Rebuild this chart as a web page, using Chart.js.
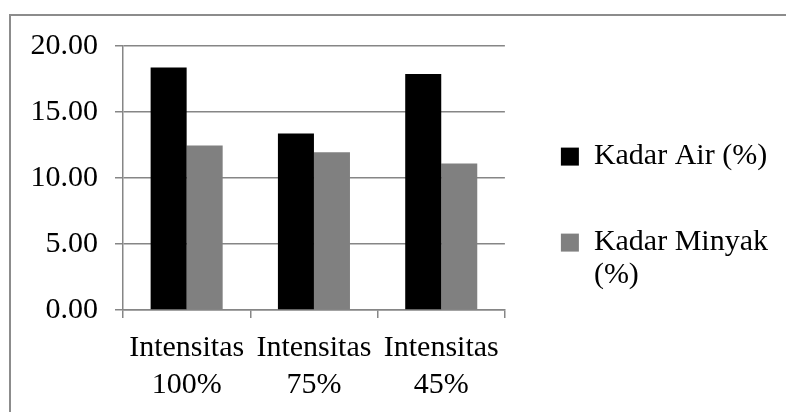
<!DOCTYPE html>
<html>
<head>
<meta charset="utf-8">
<script src="https://cdn.jsdelivr.net/npm/chart.js@4"></script>
<style>
  body { margin: 0; background: #fff; }
  .wrap { position: relative; width: 786px; height: 412px; overflow: hidden; }
  .frame { position: absolute; left: 9px; top: 14px; width: 800px; height: 420px;
           border-left: 2px solid #8c8c8c; border-top: 2px solid #8c8c8c; }
  canvas { position: absolute; left: 0; top: 0; }
</style>
</head>
<body>
<div class="wrap">
  <div class="frame"></div>
  <canvas id="myChart" width="786" height="412"></canvas>
</div>
<script>
// data
const categories = [ ['Intensitas', '100%'], ['Intensitas', '75%'], ['Intensitas', '45%'] ];
const seriesNames = [ 'Kadar Air (%)', ['Kadar Minyak', '(%)'] ];
const kadarAir = [ 18.37, 13.37, 17.88 ];
const kadarMinyak = [ 12.46, 11.96, 11.10 ];
const yTicks = [ 0, 5, 10, 15, 20 ];

const gridColor = '#868686';
const fam = '"Liberation Serif", "Times New Roman", serif';

const ctx = document.getElementById('myChart');

new Chart(ctx, {
  type: 'bar',
  data: {
    labels: categories,
    datasets: [
      { label: seriesNames[0], data: kadarAir, backgroundColor: '#000000' },
      { label: seriesNames[1], data: kadarMinyak, backgroundColor: '#808080' }
    ]
  },
  options: {
    responsive: false,
    animation: false,
    layout: { padding: { top: 22, right: 8, bottom: 0, left: 0 } },
    datasets: { bar: { categoryPercentage: 0.566, barPercentage: 1.0 } },
    plugins: {
      tooltip: { enabled: false },
      legend: {
        position: 'right',
        maxWidth: 300,
        labels: {
          color: '#000',
          font: { family: fam, size: 30, lineHeight: 1.08 },
          boxWidth: 18,
          boxHeight: 18,
          padding: 56
        }
      }
    },
    scales: {
      x: {
        grid: { display: true, drawOnChartArea: false, drawTicks: true, tickLength: 8, color: gridColor, lineWidth: 1.5, offset: true },
        border: { display: true, color: gridColor, width: 1.5 },
        ticks: { color: '#000', font: { family: fam, size: 30, lineHeight: 1.22 }, padding: 12, maxRotation: 0, autoSkip: false },
        afterFit: (s) => { s.height = 102; }
      },
      y: {
        min: yTicks[0],
        max: yTicks[yTicks.length - 1],
        afterBuildTicks: (s) => { s.ticks = yTicks.map(v => ({ value: v })); },
        grid: { color: gridColor, lineWidth: 1.5, tickLength: 8 },
        border: { display: true, color: gridColor, width: 1.5 },
        ticks: {
          color: '#000',
          font: { family: fam, size: 30 },
          padding: 17,
          callback: (v) => Number(v).toFixed(2)
        },
        // plot top sits at 46px even though the legend box starts higher
        afterFit: (s) => { s.width = 123; s.paddingTop = 46; }
      }
    }
  }
});
</script>
</body>
</html>
